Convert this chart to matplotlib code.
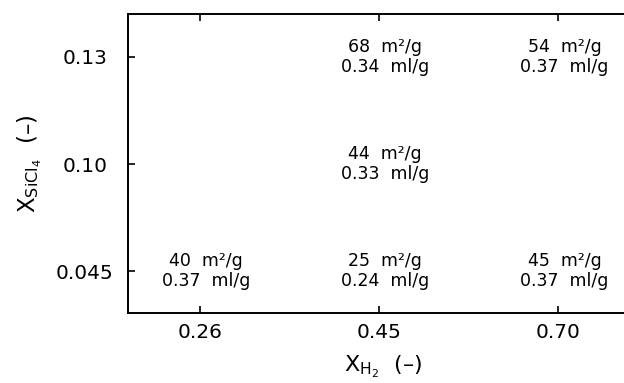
import matplotlib
matplotlib.use("Agg")
import matplotlib.pyplot as plt

x_labels = ["0.26", "0.45", "0.70"]
y_labels = ["0.045", "0.10", "0.13"]
# (x index, y index, surface area m2/g, pore volume ml/g)
pt_x = [0, 1, 2, 1, 1, 2]
pt_y = [0, 0, 0, 1, 2, 2]
area = [40, 25, 45, 44, 68, 54]
volume = ["0.37", "0.24", "0.37", "0.33", "0.34", "0.37"]

W, H = 624, 383
fig = plt.figure(figsize=(W/100, H/100), dpi=100)
left, right, top, bottom = 128, 630, 14, 313
ax = fig.add_axes([left/W, (H-bottom)/H, (right-left)/W, (bottom-top)/H])
ax.set_xlim(-0.40, 2.40)
ax.set_ylim(-0.39, 2.40)

ax.set_xticks(range(len(x_labels)))
ax.set_xticklabels(x_labels)
ax.set_yticks(range(len(y_labels)))
ax.set_yticklabels(y_labels, ha="center")
ax.tick_params(axis="both", direction="in", length=5, width=1.2, labelsize=14.5,
               top=True)
ax.tick_params(axis="y", pad=31)
ax.tick_params(axis="x", pad=7)
for s in ["left", "bottom", "top"]:
    ax.spines[s].set_linewidth(1.4)
ax.spines["right"].set_visible(False)

for xi, yi, a, v in zip(pt_x, pt_y, area, volume):
    ax.annotate(f"{a}  m²/g\n{v}  ml/g", xy=(xi, yi), xytext=(4.5, 0),
                textcoords="offset points", ha="center", va="center",
                fontsize=12.5, linespacing=1.15)

ax.set_xlabel(r"$\mathregular{X_{H_2}}$  (–)", fontsize=16)
ax.set_ylabel(r"$\mathregular{X_{SiCl_4}}$  (–)", fontsize=16.5)
ax.xaxis.set_label_coords((383-left)/(right-left), -(354-bottom)/(bottom-top))
ax.yaxis.set_label_coords(-(left-44)/(right-left), 0.5)

fig.savefig("out.png", dpi=100)
